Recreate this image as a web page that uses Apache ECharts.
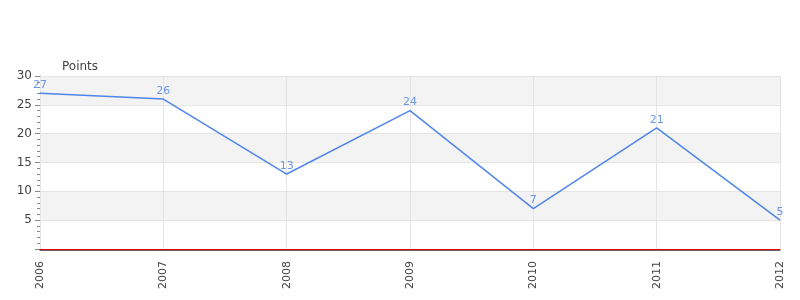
<!DOCTYPE html>
<html><head><meta charset="utf-8">
<script src="https://cdn.jsdelivr.net/npm/echarts@6/dist/echarts.min.js"></script>
<style>html,body{margin:0;padding:0;background:#fff}#c{width:800px;height:300px}</style>
</head><body><div id="c"></div>
<script>
const categories = ['2006','2007','2008','2009','2010','2011','2012'];
const points = [27, 26, 13, 24, 7, 21, 5];
const yTicks = [0, 5, 10, 15, 20, 25, 30];

const chart = echarts.init(document.getElementById('c'), null, {renderer:'canvas'});
chart.setOption({
  animation: false,
  textStyle: {fontFamily: 'DejaVu Sans'},
  grid: {left: 40, right: 20, top: 76, bottom: 51},
  xAxis: [{
    type: 'category', data: categories, boundaryGap: false, offset: 1,
    axisLine: {onZero: false, lineStyle: {color: '#666', width: 1}},
    axisTick: {show: false},
    axisLabel: {rotate: 90, color: '#444', fontSize: 11, margin: 11},
    splitLine: {show: true, lineStyle: {color: '#e4e4e4'}},
    z: 1
  }, {
    type: 'category', data: categories, boundaryGap: false, position: 'bottom', offset: 0,
    axisLine: {onZero: false, lineStyle: {color: '#e00000', width: 1}},
    axisTick: {show: false}, axisLabel: {show: false}, splitLine: {show: false},
    z: 3
  }],
  yAxis: {
    type: 'value', min: yTicks[0], max: yTicks[yTicks.length-1], interval: 5,
    name: 'Points', nameLocation: 'end', nameGap: 3,
    nameTextStyle: {color: '#444', fontSize: 12, align: 'left', padding: [0,0,0,22]},
    axisLine: {show: true, lineStyle: {color: '#888'}},
    axisTick: {show: true, length: 5, lineStyle: {color: '#888'}},
    minorTick: {show: true, splitNumber: 5, length: 3, lineStyle: {color: '#888'}},
    axisLabel: {color: '#444', fontSize: 12, margin: 8, formatter: v => v === 0 ? '' : v},
    splitLine: {show: true, lineStyle: {color: '#e4e4e4'}},
    splitArea: {show: true, areaStyle: {color: ['#ffffff', '#f3f3f3']}}
  },
  series: [{
    type: 'line', data: points, xAxisIndex: 0, symbol: 'circle', symbolSize: 1, showSymbol: true,
    itemStyle: {color: 'rgba(0,0,0,0)', borderWidth: 0},
    lineStyle: {color: '#4f86ea', width: 1.5},
    label: {show: true, position: 'top', color: '#6c96e6', fontSize: 11, distance: 2},
    labelLayout: {hideOverlap: false}
  }]
});
</script></body></html>
